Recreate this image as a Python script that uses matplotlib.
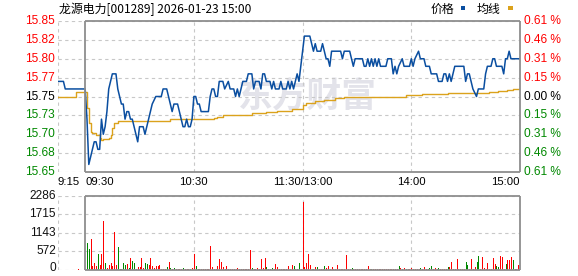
import matplotlib
matplotlib.use("Agg")
import matplotlib.pyplot as plt
from matplotlib.patches import Rectangle

plt.rcParams['font.family'] = ['Liberation Sans', 'Noto Sans CJK SC', 'DejaVu Sans']

# ---------------- data ----------------
title = "龙源电力[001289] 2026-01-23 15:00"
prev_close = 15.75

# minutes from 09:30 (pre-market 09:15 = -15, 11:30/13:00 = 120, 15:00 = 240)
price_min = [-15, -12, -11, 0, 1, 2, 3, 5, 6, 7, 8, 9, 10, 11, 12, 13, 14, 15, 17, 18, 19, 20,
             21, 22, 23, 24, 25, 26, 27, 28, 29, 30, 31, 32, 33, 34, 35, 36, 37, 39, 42, 43,
             45, 46, 47, 48, 49, 51, 52, 53, 54, 55, 56, 57, 58, 59, 60, 61, 62, 63, 64, 68,
             69, 70, 71, 72, 73, 74, 76, 77, 79, 80, 81, 82, 83, 84, 85, 86, 87, 89, 90, 92,
             93, 94, 96, 97, 98, 99, 100, 102, 103, 104, 105, 107, 108, 109, 111, 112, 113,
             114, 115, 116, 117, 118, 119, 120, 121, 124, 125, 126, 127, 128, 130, 131, 132,
             133, 134, 135, 136, 141, 142, 143, 146, 147, 148, 149, 153, 154, 155, 156, 157,
             158, 159, 160, 161, 162, 163, 166, 167, 169, 170, 171, 172, 173, 175, 176, 179,
             180, 181, 182, 184, 185, 187, 188, 190, 191, 194, 195, 197, 198, 199, 200, 201,
             202, 203, 204, 209, 210, 211, 212, 213, 214, 216, 217, 220, 221, 222, 224, 225,
             226, 227, 230, 231, 232, 233, 234, 235, 240]
price_val = [15.77, 15.77, 15.76, 15.76, 15.72, 15.66, 15.67, 15.69, 15.69, 15.68, 15.68, 15.72,
             15.70, 15.71, 15.73, 15.76, 15.77, 15.78, 15.78, 15.76, 15.75, 15.74,
             15.74, 15.72, 15.73, 15.73, 15.72, 15.72, 15.71, 15.70, 15.69, 15.71, 15.71, 15.71,
             15.70, 15.71, 15.72, 15.73, 15.74, 15.75, 15.75, 15.76,
             15.76, 15.75, 15.74, 15.73, 15.74, 15.74, 15.73, 15.72, 15.71, 15.71, 15.72, 15.71,
             15.71, 15.72, 15.75, 15.75, 15.74, 15.74, 15.73, 15.73,
             15.75, 15.76, 15.76, 15.75, 15.75, 15.77, 15.77, 15.76, 15.77, 15.76, 15.76, 15.76,
             15.75, 15.76, 15.75, 15.76, 15.77, 15.77, 15.78, 15.78,
             15.76, 15.77, 15.77, 15.76, 15.78, 15.78, 15.77, 15.77, 15.76, 15.77, 15.76, 15.76,
             15.77, 15.76, 15.76, 15.77, 15.76,
             15.77, 15.76, 15.77, 15.78, 15.77, 15.79, 15.81, 15.83, 15.83, 15.82, 15.81, 15.82,
             15.81, 15.81, 15.82, 15.81,
             15.80, 15.80, 15.79, 15.81, 15.81, 15.80, 15.81, 15.81, 15.80, 15.79, 15.80, 15.80,
             15.79, 15.79, 15.80, 15.79,
             15.80, 15.79, 15.80, 15.79, 15.80, 15.79, 15.79, 15.80, 15.80, 15.78, 15.79, 15.78,
             15.79, 15.80, 15.79, 15.79,
             15.80, 15.79, 15.80, 15.81, 15.80, 15.80, 15.79, 15.79, 15.78, 15.78, 15.77, 15.77,
             15.78, 15.78, 15.77, 15.78,
             15.77, 15.78, 15.79, 15.79, 15.77, 15.78, 15.78, 15.77, 15.76, 15.75, 15.76, 15.76,
             15.78, 15.79, 15.79, 15.80,
             15.80, 15.79, 15.79, 15.78, 15.80, 15.80, 15.81, 15.80, 15.80]

avg_min = [-15, -5, 0, 1, 2, 3, 4, 6, 8, 9, 10, 13, 14, 15, 16, 18, 46, 47, 71, 73, 76, 92,
           100, 106, 114, 120, 122, 127, 132, 138, 143, 177, 186, 200, 223, 228, 233, 236, 240]
avg_val = [15.750, 15.756, 15.756, 15.735, 15.715, 15.703, 15.701, 15.699, 15.695, 15.692,
           15.694, 15.695, 15.699, 15.708, 15.715, 15.717, 15.718, 15.720, 15.721, 15.723,
           15.726, 15.728, 15.730, 15.731, 15.733, 15.739, 15.742, 15.744, 15.745, 15.748,
           15.750, 15.752, 15.753, 15.755, 15.756, 15.757, 15.759, 15.760, 15.760]

# volume per minute, minute 0..240
volume = [0, 845, 650, 958, 124, 216, 124, 494, 155, 494,
          1514, 216, 62, 155, 216, 124, 1174, 155, 711, 31,
          31, 216, 155, 185, 62, 371, 278, 216, 31, 93,
          93, 371, 62, 216, 185, 155, 371, 124, 62, 124,
          124, 155, 31, 31, 31, 93, 247, 62, 31, 62,
          31, 31, 31, 31, 62, 31, 31, 31, 31, 62,
          494, 124, 31, 31, 31, 31, 31, 31, 31, 742,
          93, 31, 31, 124, 340, 247, 93, 31, 124, 31,
          31, 31, 31, 31, 62, 31, 31, 31, 31, 31,
          31, 618, 62, 31, 31, 62, 31, 340, 62, 371,
          93, 31, 31, 62, 31, 185, 93, 31, 31, 31,
          31, 31, 124, 31, 155, 124, 31, 31, 216, 31,
          2101, 93, 216, 494, 155, 31, 31, 93, 93, 31,
          31, 31, 124, 62, 124, 31, 93, 31, 31, 155,
          31, 31, 31, 31, 464, 31, 31, 62, 31, 31,
          31, 31, 31, 31, 31, 31, 124, 31, 31, 31,
          31, 31, 31, 31, 31, 31, 31, 31, 31, 31,
          31, 31, 31, 124, 62, 31, 62, 31, 31, 31,
          62, 31, 31, 31, 31, 62, 31, 93, 31, 31,
          62, 124, 31, 62, 31, 62, 31, 31, 31, 31,
          93, 93, 247, 31, 31, 340, 31, 31, 31, 31,
          247, 155, 31, 340, 31, 93, 247, 433, 31, 402,
          62, 31, 216, 31, 31, 371, 185, 124, 93, 433,
          402, 31, 185, 309, 309, 402, 309, 31, 31, 155,
          0]
green_minutes = [1, 2, 7, 11, 18, 19, 20, 21, 22, 24, 26, 27, 33, 34, 45, 47, 49, 54, 58, 61, 62,
                 77, 92, 100, 101, 102, 103, 107, 115, 117, 118, 126, 128, 132, 146, 147, 158,
                 173, 177, 185, 189, 190, 191, 195, 200, 210, 211, 216, 217, 227, 228, 232, 236]
pre_vol_min = [-4]
pre_vol = [41]

price_ticks = [15.85, 15.825, 15.80, 15.775, 15.75, 15.725, 15.70, 15.675, 15.65]
price_labels = ["15.85", "15.82", "15.80", "15.77", "15.75", "15.73", "15.70", "15.68", "15.65"]
pct_labels = ["0.61 %", "0.46 %", "0.31 %", "0.15 %", "0.00 %", "0.15 %", "0.31 %", "0.46 %", "0.61 %"]
vol_ticks = [2286, 1715, 1143, 572, 0]
vol_labels = ["2286", "1715", "1143", "572", "0"]
time_ticks = [-15, 0, 60, 120, 180, 240]
time_labels = ["9:15", "09:30", "10:30", "11:30/13:00", "14:00", "15:00"]

# ---------------- style ----------------
RED = "#ff0000"
GREEN = "#008800"
BLUE = "#0a4ea0"
GOLD = "#dba21c"
GRID = "#c8c8c8"
FRAME = "#8e8e8e"
W, H = 578, 276

fig = plt.figure(figsize=(W / 100, H / 100), dpi=100)
ax = fig.add_axes([58 / W, (H - 172) / H, 462 / W, 151 / H])
axv = fig.add_axes([58 / W, (H - 270) / H, 462 / W, 74 / H])

for a in (ax, axv):
    a.set_xlim(-15, 240)
    a.set_axis_off()

ax.set_ylim(15.65, 15.85)
axv.set_ylim(0, 2286)

dash = (0, (3, 3))
for t in price_ticks:
    ax.axhline(t, color=GRID, lw=0.8, ls=dash, zorder=1)
for t in vol_ticks:
    axv.axhline(t, color=GRID, lw=0.8, ls=dash, zorder=1)
for a in (ax, axv):
    for t in [-15, 60, 120, 180]:
        a.axvline(t, color=GRID, lw=0.8, ls=dash, zorder=1)

# frames (solid from 09:30 to 15:00)
for a, lo, hi in ((ax, 15.65, 15.85), (axv, 0, 2286)):
    a.hlines([lo, hi], 0, 240, color=FRAME, lw=1.3, zorder=5, clip_on=False)
    a.vlines([0, 240], lo, hi, color=FRAME, lw=1.3, zorder=5, clip_on=False)

# watermark
ax.text(0.54, 0.505, "东方财富", transform=ax.transAxes, ha='center', va='center',
        fontsize=25, fontweight='bold', color='#e3e3ea', family=['Noto Sans CJK SC'], zorder=0)

# lines
ax.plot(avg_min, avg_val, color=GOLD, lw=1.0, drawstyle='steps-post', zorder=3)
ax.plot(price_min, price_val, color=BLUE, lw=1.1, zorder=4)

# volume bars (1 px wide)
mins = list(range(len(volume)))
cols = [GREEN if m in green_minutes else RED for m in mins]
axv.vlines(mins, 0, volume, colors=cols, lw=0.72, antialiased=False, zorder=3)
axv.vlines(pre_vol_min, 0, pre_vol, colors=RED, lw=0.72, antialiased=False, zorder=3)

# left price labels / right pct labels
for t, lab in zip(price_ticks, price_labels):
    c = RED if t > prev_close + 1e-9 else (GREEN if t < prev_close - 1e-9 else 'black')
    ax.text(-0.006, t, lab, transform=ax.get_yaxis_transform(), ha='right', va='center',
            fontsize=8.6, color=c)
for t, lab in zip(price_ticks, pct_labels):
    c = RED if t > prev_close + 1e-9 else (GREEN if t < prev_close - 1e-9 else 'black')
    ax.text(1.008, t, lab, transform=ax.get_yaxis_transform(), ha='left', va='center',
            fontsize=8.6, color=c)

for t, lab in zip(vol_ticks, vol_labels):
    axv.annotate(lab, xy=(0, t), xycoords=axv.get_yaxis_transform(), xytext=(-1.5, 1.5 if t == 0 else 0),
                 textcoords='offset points', ha='right', va='center', fontsize=8.6, color='#111111')

# time labels
aligns = ['left', 'left', 'center', 'center', 'center', 'right']
for t, lab, al in zip(time_ticks, time_labels, aligns):
    ax.text(t, -0.068, lab, transform=ax.get_xaxis_transform(), ha=al, va='center',
            fontsize=8.2, color='black')

# title and legend
fig.text(59 / W, 1 - 9.5 / H, title, ha='left', va='center', fontsize=8.6,
         family=['Noto Sans CJK SC', 'DejaVu Sans'])
fig.text(431 / W, 1 - 9.5 / H, "价格", ha='left', va='center', fontsize=8.6,
         family=['Noto Sans CJK SC'])
fig.text(477 / W, 1 - 9.5 / H, "均线", ha='left', va='center', fontsize=8.6,
         family=['Noto Sans CJK SC'])
fig.add_artist(Rectangle((461 / W, 1 - 9.5 / H), 4 / W, 3 / H, transform=fig.transFigure,
                         color=BLUE, lw=0))
fig.add_artist(Rectangle((508 / W, 1 - 9.5 / H), 5 / W, 3 / H, transform=fig.transFigure,
                         color=GOLD, lw=0))

fig.savefig("out.png", dpi=100)
